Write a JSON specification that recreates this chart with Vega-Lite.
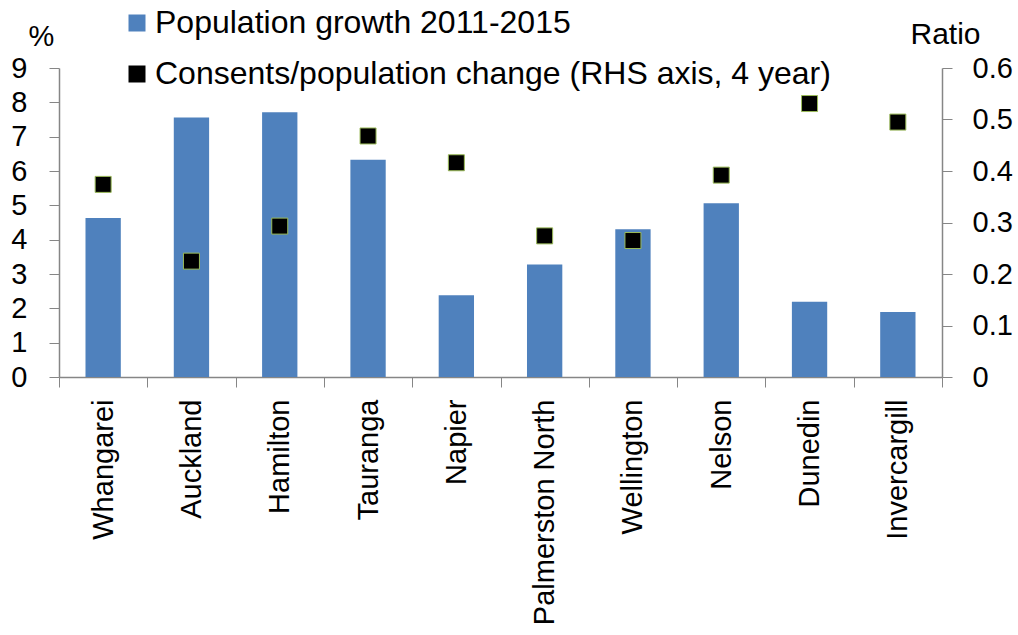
{
  "$schema": "https://vega.github.io/schema/vega-lite/v6.json",
  "width": 883,
  "height": 309,
  "autosize": {"type": "none"},
  "padding": {"left": 59, "top": 68, "right": 76, "bottom": 258},
  "background": "white",
  "config": {
    "view": {"stroke": null},
    "font": "Liberation Sans",
    "axis": {"grid": false, "domainColor": "#868686", "tickColor": "#868686", "labelColor": "black", "titleColor": "black", "labelFont": "Liberation Sans", "titleFont": "Liberation Sans", "titleFontWeight": "normal"}
  },
  "data": {
    "values": [
      {"city": "Whangarei", "growth": 4.63, "ratio": 0.374},
      {"city": "Auckland", "growth": 7.56, "ratio": 0.225},
      {"city": "Hamilton", "growth": 7.71, "ratio": 0.293},
      {"city": "Tauranga", "growth": 6.33, "ratio": 0.468},
      {"city": "Napier", "growth": 2.38, "ratio": 0.416},
      {"city": "Palmerston North", "growth": 3.28, "ratio": 0.274},
      {"city": "Wellington", "growth": 4.30, "ratio": 0.265},
      {"city": "Nelson", "growth": 5.06, "ratio": 0.392},
      {"city": "Dunedin", "growth": 2.19, "ratio": 0.531},
      {"city": "Invercargill", "growth": 1.89, "ratio": 0.495}
    ]
  },
  "encoding": {
    "x": {
      "field": "city", "type": "nominal", "sort": null,
      "scale": {"paddingInner": 0, "paddingOuter": 0},
      "axis": {"title": null, "labelAngle": -90, "labelFontSize": 29, "labelLimit": 400, "tickSize": 10, "tickBand": "extent", "labelPadding": 12, "domainWidth": 1.5}
    }
  },
  "layer": [
    {
      "mark": {"type": "bar", "width": {"band": 0.4}},
      "encoding": {
        "y": {
          "field": "growth", "type": "quantitative",
          "scale": {"domain": [0, 9]},
          "axis": {"title": "%", "titleAngle": 0, "titleFontSize": 29, "titleX": -18, "titleY": -32, "titleAlign": "center", "titleBaseline": "middle", "values": [0,1,2,3,4,5,6,7,8,9], "labelFontSize": 29, "tickSize": 10, "labelPadding": 22, "domainWidth": 1.5}
        },
        "color": {
          "datum": "Population growth 2011-2015",
          "type": "nominal",
          "scale": {"domain": ["Population growth 2011-2015", "Consents/population change (RHS axis, 4 year)"], "range": ["#4F81BD", "#000000"]},
          "legend": {"title": null, "orient": "none", "legendX": 62, "legendY": -61, "symbolType": "square", "symbolSize": 289, "labelFontSize": 32, "labelOffset": 2, "rowPadding": 19, "padding": 0, "labelLimit": 900, "symbolStrokeWidth": 0}
        }
      }
    },
    {
      "mark": {"type": "point", "shape": "square", "filled": true, "size": 256, "stroke": "#9BBB59", "strokeWidth": 1, "opacity": 1},
      "encoding": {
        "y": {
          "field": "ratio", "type": "quantitative",
          "scale": {"domain": [0, 0.6]},
          "axis": {"orient": "right", "title": "Ratio", "titleAngle": 0, "titleFontSize": 30, "titleX": 3, "titleY": -34, "titleAlign": "center", "titleBaseline": "middle", "values": [0, 0.1, 0.2, 0.3, 0.4, 0.5, 0.6], "format": ".1~f", "labelFontSize": 29, "tickSize": 10, "labelPadding": 20, "domainWidth": 1.5}
        },
        "color": {"datum": "Consents/population change (RHS axis, 4 year)", "type": "nominal"}
      }
    }
  ],
  "resolve": {"scale": {"y": "independent"}}
}
